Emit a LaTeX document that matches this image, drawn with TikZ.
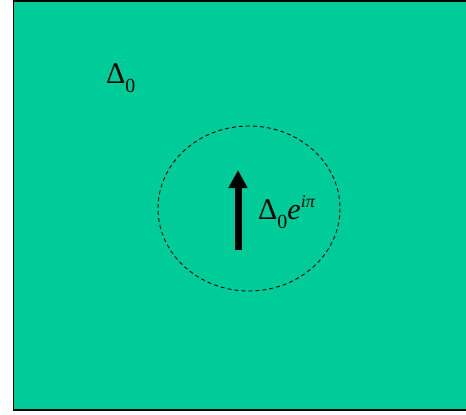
\documentclass[tikz,border=0pt]{standalone}
\usepackage{fontspec}
\setmainfont{Liberation Serif}
\usepackage{xcolor}
\usepackage{tikz}
\usetikzlibrary{arrows.meta,positioning}
\definecolor{fieldc}{HTML}{00CC99}
\tikzset{
  ar/.style={-{Triangle[length=18pt,width=18pt]},line width=7pt,black},
  lbl/.style={font=\fontsize{30}{30}\selectfont,inner sep=0pt,anchor=base west}
}
\newcommand{\lowidx}[1]{\raisebox{-9pt}{\fontsize{20}{20}\selectfont #1}}
\newcommand{\upidx}[1]{\raisebox{12pt}{\fontsize{18}{18}\selectfont #1}}
\begin{document}
\begin{tikzpicture}[x=1pt,y=-1pt]
\useasboundingbox (0,0) rectangle (466,415);
\filldraw[fill=fieldc,draw=black,line width=1.5pt] (13.5,1) rectangle (470,410);
\draw[dashed,line width=0.9pt,dash pattern=on 4pt off 3pt] (249,208.5) ellipse [x radius=91,y radius=82.5];
\coordinate (tail) at (238,250);
\coordinate (head) at (238,170);
\draw[ar] (tail) -- (head);
\node[lbl] (bulk) at (106,83) {Δ\lowidx{0}};
\node[lbl] (core) at (258,219) {Δ\lowidx{0}\textit{e}\upidx{\textit{iπ}}};
\end{tikzpicture}
\end{document}
